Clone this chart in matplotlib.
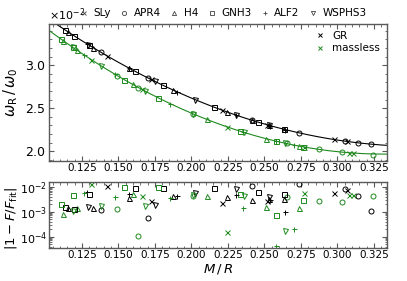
import matplotlib
matplotlib.use("Agg")
import matplotlib.pyplot as plt
import numpy as np
from matplotlib.lines import Line2D
from matplotlib.ticker import MultipleLocator, LogLocator, NullFormatter

# equations of state and their markers
eos_names = ['SLy', 'APR4', 'H4', 'GNH3', 'ALF2', 'WSPHS3']
eos_markers = ['x', 'o', '^', 's', '+', 'v']

# GR models: compactness, omega_R/omega_0 (x1e-2), |1 - F/F_fit|
gr_x = {
    'SLy':    [0.1419, 0.1721, 0.2207, 0.2515, 0.2976, 0.3063],
    'APR4':   [0.1378, 0.1704, 0.2412, 0.2736, 0.3051, 0.3142, 0.3227],
    'H4':     [0.1156, 0.1327, 0.1574, 0.1875, 0.2241, 0.2412, 0.2531, 0.2634],
    'GNH3':   [0.1134, 0.1195, 0.1300, 0.1613, 0.1807, 0.2156, 0.2458, 0.2634],
    'ALF2':   [0.1286, 0.1574, 0.1903, 0.2305, 0.2538, 0.2640],
    'WSPHS3': [0.1293, 0.1750, 0.2024, 0.2305, 0.2533],
}
gr_w = {
    'SLy':    [3.113, 2.837, 2.480, 2.310, 2.137, 2.115],
    'APR4':   [3.154, 2.851, 2.362, 2.215, 2.118, 2.098, 2.083],
    'H4':     [3.387, 3.205, 2.966, 2.712, 2.459, 2.362, 2.302, 2.256],
    'GNH3':   [3.412, 3.345, 3.233, 2.931, 2.766, 2.512, 2.338, 2.256],
    'ALF2':   [3.248, 2.966, 2.691, 2.421, 2.299, 2.253],
    'WSPHS3': [3.240, 2.812, 2.602, 2.421, 2.301],
}
gr_res = {
    'SLy':    [1.07e-2, 2.75e-3, 2.29e-3, 2.68e-3, 5.44e-3, 7.38e-3],
    'APR4':   [1.17e-3, 5.75e-4, 1.07e-2, 1.28e-2, 7.87e-3, 4.25e-3, 1.10e-3],
    'H4':     [1.37e-3, 1.37e-3, 3.44e-3, 4.37e-3, 3.77e-3, 2.94e-3, 3.22e-3, 3.13e-3],
    'GNH3':   [1.50e-3, 1.28e-3, 5.10e-3, 8.63e-3, 9.12e-3, 8.63e-3, 5.97e-3, 5.10e-3],
    'ALF2':   [5.97e-3, 5.10e-3, 4.37e-3, 4.66e-3, 2.94e-3, 1.00e-3],
    'WSPHS3': [1.58e-3, 1.85e-3, 5.44e-3, 7.87e-3, 3.98e-3],
}

# massless scalar models
ml_x = {
    'SLy':    [0.1316, 0.1659, 0.2245, 0.2771, 0.3081, 0.3104],
    'APR4':   [0.1492, 0.1636, 0.2008, 0.2652, 0.2875, 0.3029, 0.3245],
    'H4':     [0.1122, 0.1218, 0.1597, 0.2104, 0.2508, 0.2738],
    'GNH3':   [0.1104, 0.1190, 0.1540, 0.1769, 0.2332, 0.2579, 0.2766],
    'ALF2':   [0.1264, 0.1476, 0.1857, 0.2351, 0.2577, 0.2702],
    'WSPHS3': [0.1186, 0.1378, 0.1682, 0.2008, 0.2360, 0.2640],
}
ml_w = {
    'SLy':    [3.064, 2.720, 2.283, 2.052, 1.982, 1.978],
    'APR4':   [2.879, 2.741, 2.437, 2.091, 2.025, 1.992, 1.962],
    'H4':     [3.288, 3.174, 2.777, 2.370, 2.148, 2.062],
    'GNH3':   [3.310, 3.207, 2.832, 2.623, 2.234, 2.118, 2.054],
    'ALF2':   [3.122, 2.895, 2.551, 2.224, 2.119, 2.074],
    'WSPHS3': [3.212, 2.997, 2.699, 2.437, 2.219, 2.095],
}
ml_res = {
    'SLy':    [1.25e-2, 4.37e-3, 1.58e-4, 5.75e-3, 4.66e-3, 4.66e-3],
    'APR4':   [1.28e-3, 1.10e-4, 4.37e-3, 3.98e-3, 2.68e-3, 2.38e-3, 4.25e-3],
    'H4':     [8.1e-4, 1.45e-3, 4.97e-3, 4.25e-3, 1.58e-3, 1.37e-3],
    'GNH3':   [2.03e-3, 4.66e-3, 1.0e-2, 1.0e-2, 4.97e-3, 7.4e-4, 2.94e-3],
    'ALF2':   [5.75e-3, 3.98e-3, 3.44e-3, 1.37e-3, 4.25e-5, 2.03e-4],
    'WSPHS3': [1.10e-3, 1.69e-3, 1.69e-3, 4.66e-3, 4.25e-3, 1.69e-4],
}

green = '#1f8a1f'
frame = '0.35'

fig = plt.figure(figsize=(4.07, 2.81), dpi=100)
ax1 = fig.add_axes([0.1204, 0.428, 0.8306, 0.4866])
ax2 = fig.add_axes([0.1204, 0.1164, 0.8306, 0.237])

mk = dict(ms=3.6, mew=0.7, mfc='none', ls='none')

# fits through all models of each theory
all_gr_x = np.concatenate([gr_x[e] for e in eos_names])
all_gr_w = np.concatenate([gr_w[e] for e in eos_names]) * 1e-2
all_ml_x = np.concatenate([ml_x[e] for e in eos_names])
all_ml_w = np.concatenate([ml_w[e] for e in eos_names]) * 1e-2
xx = np.linspace(0.098, 0.34, 200)
ax1.plot(xx, np.polyval(np.polyfit(all_gr_x, all_gr_w, 2), xx), color='k', lw=0.8)
ax1.plot(xx, np.polyval(np.polyfit(all_ml_x, all_ml_w, 2), xx), color=green, lw=0.8)

for e, m in zip(eos_names, eos_markers):
    ax1.plot(gr_x[e], np.array(gr_w[e]) * 1e-2, marker=m, color='k', **mk)
    ax1.plot(ml_x[e], np.array(ml_w[e]) * 1e-2, marker=m, color=green, **mk)
    ax2.plot(gr_x[e], gr_res[e], marker=m, color='k', **mk)
    ax2.plot(ml_x[e], ml_res[e], marker=m, color=green, **mk)

for ax in (ax1, ax2):
    ax.set_xlim(0.1025, 0.334)
    ax.xaxis.set_major_locator(MultipleLocator(0.025))
    ax.xaxis.set_minor_locator(MultipleLocator(0.005))
    ax.tick_params(which='both', direction='in', top=True, right=True, color=frame)
    ax.tick_params(axis='x', labelsize=7.5, pad=1.5)
    ax.tick_params(axis='y', labelsize=9, pad=2)
    ax.tick_params(which='major', length=3.5)
    ax.tick_params(which='minor', length=1.8)
    for s in ax.spines.values():
        s.set_color(frame)
        s.set_linewidth(1.0)

ax1.set_ylim(1.89e-2, 3.48e-2)
ax1.yaxis.set_major_locator(MultipleLocator(0.5e-2))
ax1.yaxis.set_minor_locator(MultipleLocator(0.1e-2))
ax1.ticklabel_format(axis='y', style='sci', scilimits=(-2, -2), useMathText=True)
ax1.yaxis.get_offset_text().set_fontsize(8)
ax1.set_ylabel(r'$\omega_{\rm R}\,/\,\omega_0$', fontsize=10.5)
ax1.yaxis.set_label_coords(-0.085, 0.5)

ax2.set_yscale('log')
ax2.set_ylim(3.4e-5, 1.58e-2)
ax2.yaxis.set_major_locator(LogLocator(base=10, numticks=10))
ax2.yaxis.set_minor_locator(LogLocator(base=10, subs=np.arange(2, 10), numticks=10))
ax2.yaxis.set_minor_formatter(NullFormatter())
ax2.tick_params(axis='y', labelsize=8, pad=1.5)
ax2.set_ylabel(r'$|1-F/F_{\rm fit}|$', fontsize=9.5)
ax2.yaxis.set_label_coords(-0.088, 0.45)
ax2.set_xlabel(r'$M\,/\,R$', fontsize=9.5, labelpad=1)

# legends
th_handles = [Line2D([], [], marker='x', color='k', ls='none', ms=3.2, mew=0.7),
              Line2D([], [], marker='x', color=green, ls='none', ms=3.2, mew=0.7)]
ax1.legend(th_handles, ['GR', 'massless'], loc='upper right', frameon=False,
           fontsize=7.5, handletextpad=0.7, handlelength=1.0, borderaxespad=0.25,
           labelspacing=0.25)

eos_handles = [Line2D([], [], marker=m, color='0.25', ls='none', ms=3.0, mew=0.6,
                      mfc='none') for m in eos_markers]
fig.legend(eos_handles, eos_names, loc='center', bbox_to_anchor=(0.548, 0.953),
           ncol=6, frameon=False, fontsize=7.5, handletextpad=0.5,
           columnspacing=0.9, handlelength=0.8)

fig.savefig('out.png', dpi=100)
